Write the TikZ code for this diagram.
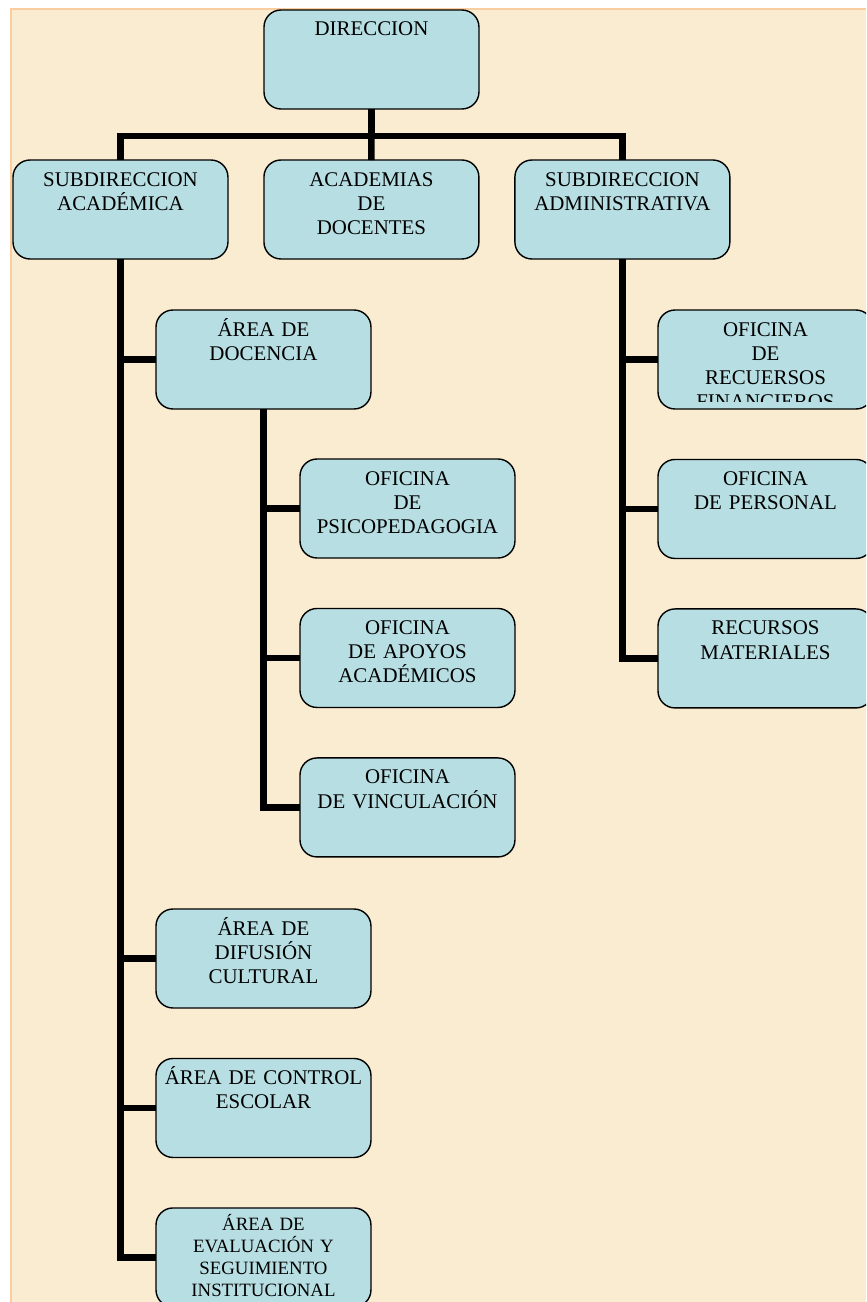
\documentclass[tikz,border=0pt]{standalone}
\usepackage{fontspec}
\setmainfont{Liberation Serif}
\usetikzlibrary{positioning,chains}
\definecolor{azulcaja}{RGB}{183,222,226}
\definecolor{pergamino}{RGB}{250,236,209}
\definecolor{bordepergamino}{RGB}{249,205,160}

\begin{document}
\begin{tikzpicture}[x=0.02cm,y=-0.02cm,
  caja/.style={draw,line width=0.8pt,rounded corners=0.34cm,fill=azulcaja},
  cargo/.style={caja,anchor=north west,inner sep=0pt,outer sep=0pt,
    text width=4.3cm,align=center,text height=0.52cm,text depth=1.46cm,
    font=\fontsize{11.9}{13.7}\selectfont},
  cargochico/.style={cargo,text height=0.46cm,text depth=1.52cm,
    font=\fontsize{10.7}{12.4}\selectfont},
  linea/.style={line width=0.13cm,line join=miter},
  node distance=1.01cm,
]
\path[use as bounding box,clip] (0,0) rectangle (866,1302);
\fill[white] (0,0) rectangle (866,1302);
\fill[pergamino] (11,9) rectangle (866,1302);
\draw[bordepergamino,line width=0.8pt] (11,1302) -- (11,9) -- (866,9);

% direccion y subdirecciones
\node[cargo] (dir) at (264,10) {DIRECCION};
\node[cargo] (subac) at (13,160) {SUBDIRECCION\\ACADÉMICA};
\node[cargo,right=0.72cm of subac] (acad) {ACADEMIAS\\DE\\DOCENTES};
\node[cargo,right=0.72cm of acad] (subad) {SUBDIRECCION\\ADMINISTRATIVA};

% areas academicas
\node[cargo] (docen) at (156,310) {ÁREA DE\\DOCENCIA};
\node[cargo] (difus) at (156,909) {ÁREA DE\\DIFUSIÓN\\CULTURAL};
\node[cargo,below=of difus] (control) {ÁREA DE CONTROL\\ESCOLAR};
\node[cargochico,below=of control] (evalua) {ÁREA DE\\EVALUACIÓN Y\\SEGUIMIENTO\\INSTITUCIONAL};

% oficinas de docencia
\begin{scope}[shift={(300,459)},start chain=going below]
\foreach \n/\t in {psico/{OFICINA\\DE\\PSICOPEDAGOGIA},
                   apoyo/{OFICINA\\DE APOYOS\\ACADÉMICOS},
                   vincul/{OFICINA\\DE VINCULACIÓN}}
\node[cargo,on chain] (\n) {\t};
\end{scope}

% oficinas administrativas
\begin{scope}
\clip (640,300) rectangle (866,402);
\node[cargo] (finan) at (658,310) {OFICINA\\DE\\RECUERSOS\\FINANCIEROS};
\end{scope}
\begin{scope}
\clip (640,402) rectangle (866,420);
\path[caja] (finan.north west) rectangle (finan.south east);
\end{scope}
\node[cargo,below=of finan] (person) {OFICINA\\DE PERSONAL};
\node[cargo,below=of person] (mater) {RECURSOS\\MATERIALES};

% nivel 1
\draw[linea] (dir.south) -- ++(0,27) coordinate (bus);
\draw[linea] (subac.north) |- (bus) -| (subad.north);
\draw[linea] (bus) -- (acad.north);

% nivel 2
\draw[linea] (subac.south) |- (evalua.west);
\foreach \n in {docen,difus,control}
\draw[linea] (subac.south |- \n.west) -- (\n.west);

\draw[linea] (docen.south) |- (vincul.west);
\foreach \n in {psico,apoyo}
\draw[linea] (docen.south |- \n.west) -- (\n.west);

\draw[linea] (subad.south) |- (mater.west);
\foreach \n in {finan,person}
\draw[linea] (subad.south |- \n.west) -- (\n.west);
\end{tikzpicture}
\end{document}
